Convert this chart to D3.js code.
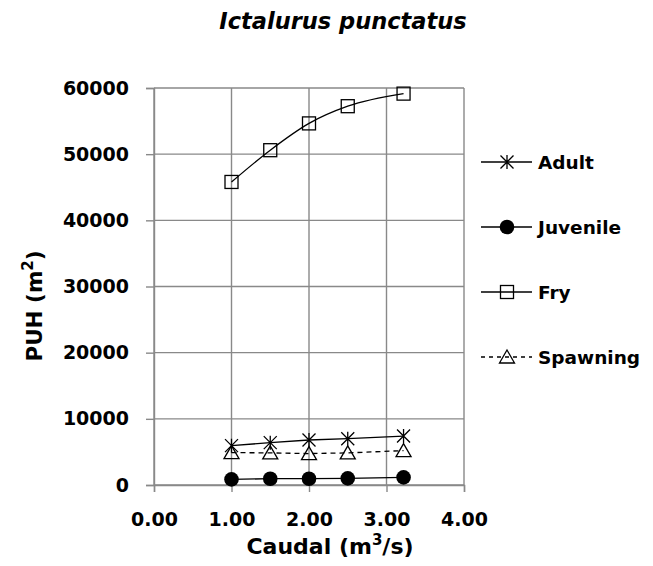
<!DOCTYPE html>
<html><head><meta charset="utf-8">
<script src="https://cdn.jsdelivr.net/npm/d3@7/dist/d3.min.js"></script>
<style>
html,body{margin:0;padding:0;background:#fff;}
text{font-family:"DejaVu Sans",sans-serif;font-weight:bold;fill:#000;}
</style></head>
<body><svg id="c" width="653" height="566"></svg>
<script>
const caudal = [1.0, 1.5, 2.0, 2.5, 3.22];
const adult = [5950, 6400, 6800, 7000, 7400];
const juvenile = [850, 950, 950, 1000, 1150];
const fry = [45800, 50600, 54650, 57250, 59150];
const spawning = [4900, 4850, 4750, 4850, 5200];
const seriesNames = ["Adult", "Juvenile", "Fry", "Spawning"];
const xTicks = [0, 1, 2, 3, 4];
const yTicks = [0, 10000, 20000, 30000, 40000, 50000, 60000];

const svg = d3.select("#c");
const L = 154, R = 464, T = 88, B = 485;
const x = d3.scaleLinear().domain([0, 4]).range([L, R]);
const y = d3.scaleLinear().domain([0, 60000]).range([B, T]);
const grid = "#898989";

// title
svg.append("text").attr("x", 343).attr("y", 29).attr("text-anchor", "middle")
  .style("font-size", "22.5px").style("font-style", "italic").text("Ictalurus punctatus");

// gridlines
svg.append("g").selectAll("line").data(yTicks).join("line")
  .attr("x1", L).attr("x2", R).attr("y1", d => y(d)).attr("y2", d => y(d))
  .attr("stroke", grid).attr("stroke-width", 1.4);
svg.append("g").selectAll("line").data(xTicks).join("line")
  .attr("y1", T).attr("y2", B).attr("x1", d => x(d)).attr("x2", d => x(d))
  .attr("stroke", grid).attr("stroke-width", 1.4);

// axes
const ax = svg.append("g").attr("transform", `translate(0,${B})`)
  .call(d3.axisBottom(x).tickValues(xTicks).tickFormat(d3.format(".2f")).tickSize(7).tickPadding(21));
const ay = svg.append("g").attr("transform", `translate(${L},0)`)
  .call(d3.axisLeft(y).tickValues(yTicks).tickFormat(d3.format("d")).tickSize(8).tickPadding(17));
[ax, ay].forEach(g => {
  g.selectAll("path.domain").attr("stroke", grid).attr("stroke-width", 1.4);
  g.selectAll(".tick line").attr("stroke", grid).attr("stroke-width", 1.4);
  g.selectAll(".tick text").style("font-size", "19px").style("font-family", "DejaVu Sans").style("font-weight", "bold").attr("fill", "#000");
});

// axis titles
svg.append("text").attr("x", 330).attr("y", 554).attr("text-anchor", "middle")
  .style("font-size", "22px")
  .html('Caudal (m<tspan baseline-shift="super" font-size="15px">3</tspan>/s)');
svg.append("text").attr("transform", "translate(42,306) rotate(-90)").attr("text-anchor", "middle")
  .style("font-size", "21.5px")
  .html('PUH (m<tspan baseline-shift="super" font-size="15px">2</tspan>)');

// markers
function drawMarker(g, type, cx, cy) {
  if (type === "star") {
    const s = 6.5;
    g.append("path").attr("d", `M${cx-s},${cy-s}L${cx+s},${cy+s}M${cx-s},${cy+s}L${cx+s},${cy-s}M${cx},${cy-s-0.5}L${cx},${cy+s+0.5}`)
      .attr("stroke", "#000").attr("stroke-width", 1.3).attr("fill", "none");
  } else if (type === "circle") {
    g.append("circle").attr("cx", cx).attr("cy", cy).attr("r", 7.3).attr("fill", "#000");
  } else if (type === "square") {
    g.append("rect").attr("x", cx - 6.5).attr("y", cy - 6.5).attr("width", 13).attr("height", 13)
      .attr("fill", "none").attr("stroke", "#000").attr("stroke-width", 1.3);
  } else if (type === "triangle") {
    g.append("path").attr("d", `M${cx},${cy-7}L${cx+7.5},${cy+6}L${cx-7.5},${cy+6}Z`)
      .attr("fill", "none").attr("stroke", "#000").attr("stroke-width", 1.3);
  }
}

const series = [
  {name: seriesNames[0], vals: adult, marker: "star", dash: null, curve: d3.curveLinear},
  {name: seriesNames[1], vals: juvenile, marker: "circle", dash: null, curve: d3.curveLinear},
  {name: seriesNames[2], vals: fry, marker: "square", dash: null, curve: d3.curveMonotoneX},
  {name: seriesNames[3], vals: spawning, marker: "triangle", dash: "5,4", curve: d3.curveLinear},
];

series.forEach(s => {
  const g = svg.append("g");
  const pts = caudal.map((c, i) => [c, s.vals[i]]);
  g.append("path").datum(pts)
    .attr("d", d3.line().x(d => x(d[0])).y(d => y(d[1])).curve(s.curve))
    .attr("fill", "none").attr("stroke", "#000").attr("stroke-width", 1.3)
    .attr("stroke-dasharray", s.dash);
  pts.forEach(p => drawMarker(g, s.marker, x(p[0]), y(p[1])));
});

// legend
const legY = [162, 227, 292, 357];
series.forEach((s, i) => {
  const g = svg.append("g");
  const ly = legY[i];
  g.append("line").attr("x1", 481).attr("x2", 532).attr("y1", ly).attr("y2", ly)
    .attr("stroke", "#000").attr("stroke-width", 1.3).attr("stroke-dasharray", s.dash ? "4,4" : null);
  drawMarker(g, s.marker, 507, ly);
  g.append("text").attr("x", 538).attr("y", ly).attr("dy", "0.36em")
    .style("font-size", "18.5px").text(s.name);
});
</script></body></html>
